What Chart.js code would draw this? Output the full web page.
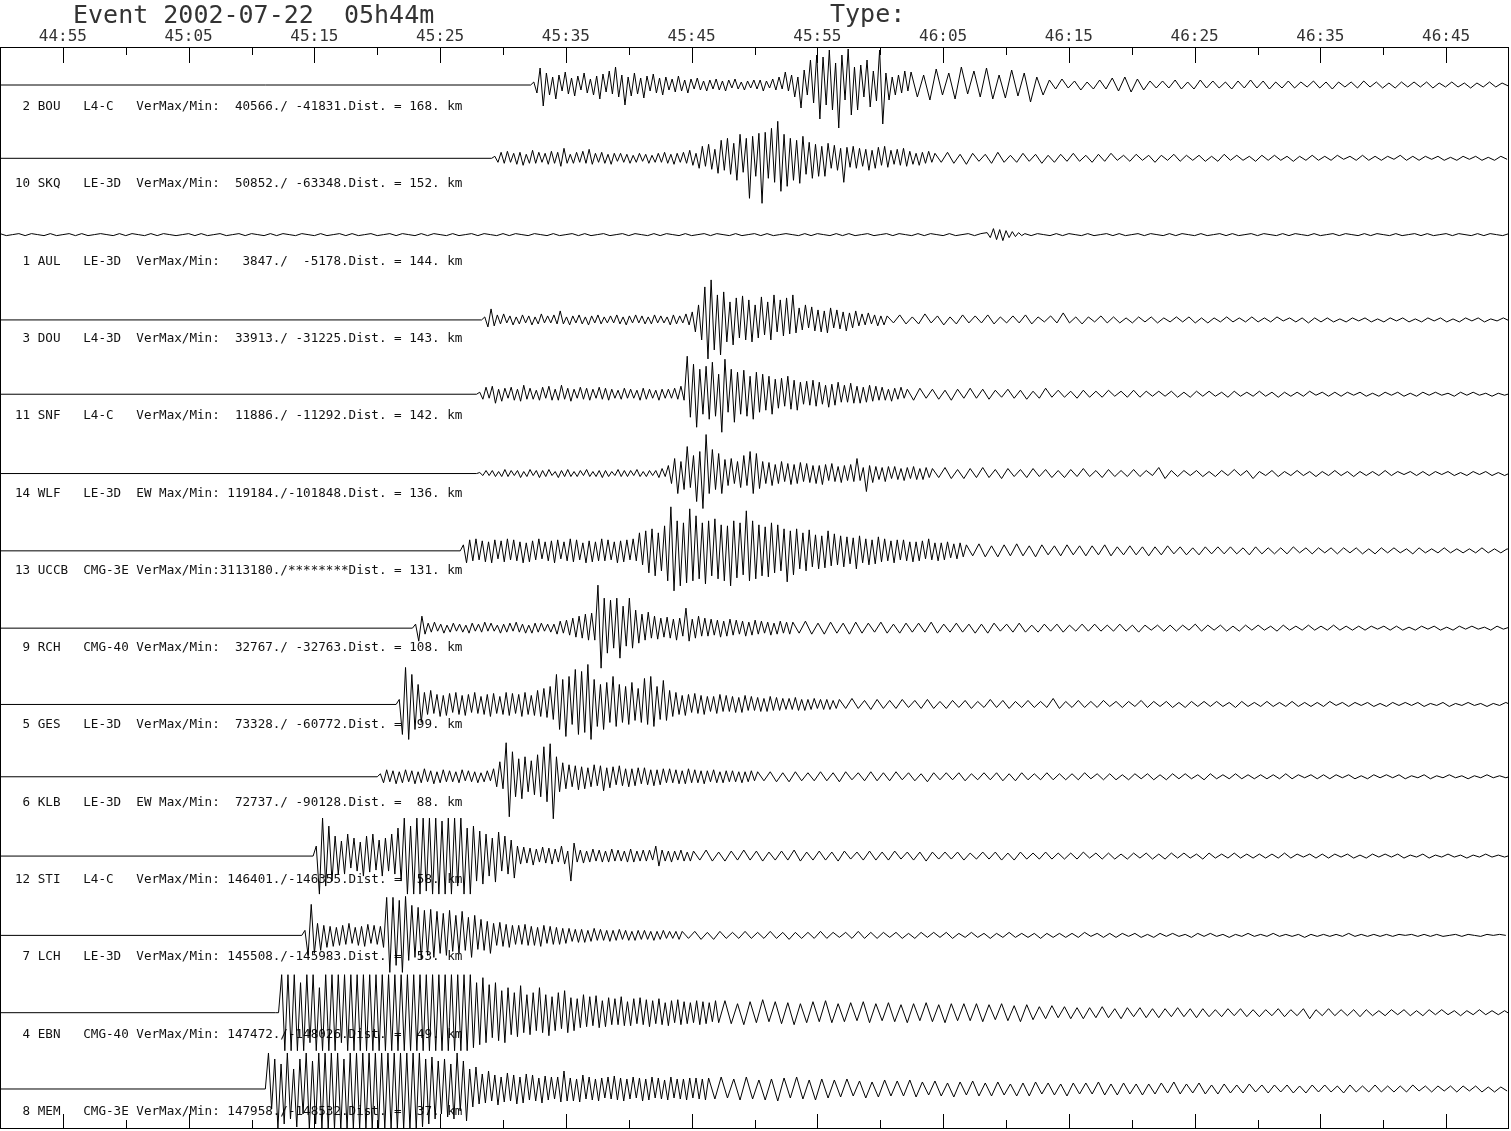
<!DOCTYPE html>
<html>
<head>
<meta charset="utf-8">
<title>Event 2002-07-22 05h44m</title>
<script src="https://cdn.jsdelivr.net/npm/chart.js@4.4.1/dist/chart.umd.min.js"></script>
<style>
  html, body { margin: 0; padding: 0; background: #fff; }
  #wrap { width: 1511px; height: 1131px; }
</style>
</head>
<body>
<div id="wrap"><canvas id="seismo" width="1511" height="1131"></canvas></div>
<script>
// header texts
const eventTitle = 'Event 2002-07-22  05h44m';
const typeLabel = 'Type:';
const startClock = '44:50'; // left edge of the plot
const tickLabels = ['44:55', '45:05', '45:15', '45:25', '45:35', '45:45',
  '45:55', '46:05', '46:15', '46:25', '46:35', '46:45'];

// station table, top to bottom
const stationNums = [2, 10, 1, 3, 11, 14, 13, 9, 5, 6, 12, 7, 4, 8];
const stations = ['BOU', 'SKQ', 'AUL', 'DOU', 'SNF', 'WLF', 'UCCB', 'RCH', 'GES', 'KLB', 'STI', 'LCH', 'EBN', 'MEM'];
const instruments = ['L4-C', 'LE-3D', 'LE-3D', 'L4-3D', 'L4-C', 'LE-3D', 'CMG-3E', 'CMG-40', 'LE-3D', 'LE-3D', 'L4-C', 'LE-3D', 'CMG-40', 'CMG-3E'];
const components = ['Ver', 'Ver', 'Ver', 'Ver', 'Ver', 'EW ', 'Ver', 'Ver', 'Ver', 'EW ', 'Ver', 'Ver', 'Ver', 'Ver'];
const maxCounts = [40566, 50852, 3847, 33913, 11886, 119184, 3113180, 32767, 73328, 72737, 146401, 145508, 147472, 147958];
const minCounts = [-41831, -63348, -5178, -31225, -11292, -101848, null, -32763, -60772, -90128, -146355, -145983, -148026, -148532];
const distKm = [168, 152, 144, 143, 142, 136, 131, 108, 99, 88, 58, 53, 49, 37];

// onset (s after 44:50) and level of the quiet part before it
const onsets = [42.2, 39.1, 0, 38.3, 37.9, 37.9, 36.6, 32.8, 31.5, 30.0, 24.9, 24.0, 21.9, 21.1];
const preLevels = [0, 4, 5, -3, 0, -2, -2, -2, -1, 4, 2, 0, 0, 1];

// traces: "Head" sampled every 0.25 s from onset, "Tail" every 0.5 s after
const bouHead = [
  3,-8,17,-21, 12,-10,8,-14, 10,-6,13,-9, 7,-11,9,-5, 12,-8,6,-10,
  9,-14,11,-7, 14,-9,18,-12, 10,-20,8,-11, 12,-9,7,-13, 9,-6,11,-8,
  7,-10,8,-5, 6,-7,9,-6, 5,-8,6,-4, 7,-5,4,-6, 5,-4,6,-5,
  4,-6,5,-3, 6,-4,3,-5, 4,-3,5,-4, 5,-6,4,-3, 6,-5,8,-4,
  13,-6,10,-12, 8,-23,15,-10, 25,-18,30,-34, 28,-20,35,-25, 22,-43,30,-15,
  36,-30,18,-25, 20,-12,25,-22, 14,-16,35,-39, 12,-15,8,-10, 10,-8,14,-6];
const bouTail = [
  13,-12,10,-15,16,-10,12,-14,18,-9, 14,-12,17,-14,10,-13,15,-11,12,-17,
  8,-10,5,-4,6,-3,4,-5,3,-4, 5,-4,7,-6,8,-7,6,-5,4,-3,
  4,-3,5,-4,3,-4,5,-3,4,-3, 3,-4,4,-3,5,-3,4,-4,3,-3,
  4,-3,3,-2,4,-3,3,-4,3,-2, 3,-3,4,-2,3,-3,2,-3,3,-2,
  3,-2,3,-3,2,-2,3,-2,2,-3, 2,-2,3,-2,2,-1];

const skqHead = [
  2,-4,6,-5, 7,-4,5,-6, 6,-7,4,-5, 8,-5,6,-4, 5,-6,7,-5,
  6,-8,10,-5, 4,-5,6,-4, 7,-5,9,-6, 5,-4,6,-5, 4,-6,5,-3,
  5,-4,4,-5, 3,-4,5,-3, 4,-5,3,-4, 5,-4,6,-5, 4,-6,5,-4,
  6,-5,8,-7, 5,-10,12,-8, 14,-11,9,-15, 18,-12,20,-16, 15,-22,24,-14,
  20,-40,22,-18, 25,-45,26,-20, 30,-24,37,-33, 24,-28,20,-22, 18,-25,22,-16,
  16,-20,14,-18, 12,-18,15,-10, 13,-12,10,-24, 11,-9,12,-10, 10,-8,9,-12,
  8,-10,11,-7, 12,-9,8,-6, 9,-7,10,-8, 7,-6,5,-7, 6,-5,7,-4];
const skqTail = [
  5,-4,6,-5,4,-6,5,-3,4,-5, 6,-4,3,-4,5,-3,4,-5,3,-4,
  4,-3,5,-3,3,-4,4,-3,5,-2, 3,-3,4,-2,3,-4,3,-2,4,-3,
  3,-2,3,-3,2,-3,4,-2,3,-2, 2,-3,3,-2,3,-2,2,-3,2,-2,
  3,-2,2,-2,3,-1,2,-2,3,-2, 2,-2,2,-1,3,-2,2,-2,2,-1,
  2,-2,1,-2,2,-1,2,-2,1,-2, 2,-1];

const aulA = [
  1,-1,0,1,-1,1,0,-1,1,-1, 0,1,-1,1,-1,0,1,0,-1,1,
  -1,1,0,-1,1,-1,1,0,-1,0, 1,-1,1,-1,0,1,-1,0,1,-1,
  1,0,-1,1,-1,1,0,-1,1,0, -1,1,-1,0,1,-1,1,-1,0,1,
  -1,0,1,-1,1,0,-1,1,-1,1, 0,-1,1,-1,0,1,-1,1,0,-1,
  1,-1,1,0,-1,1,0,-1,1,-1, 0,1,-1,1,-1,0,1,-1,0,1,
  -1,1,0,-1,1,-1,1,0,-1,1, -1,0,1,-1,1,0,-1,1,-1,0,
  1,-1,1,-1,0,1,0,-1,1,-1, 1,0,-1,1,-1,1,-1,0,1,-1,
  0,1,-1,1,0,-1,1,-1,1,0, -1,1,-1,0,1,-1,1];
const aulB = [2,-3,6,-5, 5,-6,4,-3, 3,-2,2,-1];
const aulC = [
  1,-1,1,0,-1,1,-1,1,0,-1, 1,-1,0,1,-1,1,-1,0,1,-1,
  1,0,-1,1,-1,1,0,-1,1,-1, 0,1,-1,1,-1,0,1,-1,1,0,
  -1,1,-1,1,0,-1,1,-1,0,1, -1,1,0,-1,1,-1,1,0,-1,1,
  -1,0,1,-1,1,-1,0,1,-1,1, 0,-1,1,-1,1,0,-1,1];

const douHead = [
  3,-7,11,-6, 5,-4,6,-3, 4,-5,3,-4, 5,-3,4,-5, 3,-4,6,-3,
  4,-3,5,-4, 9,-4,3,-5, 4,-3,5,-4, 3,-5,4,-3, 5,-4,3,-3,
  4,-3,5,-4, 3,-5,4,-3, 5,-3,4,-4, 3,-4,5,-3, 4,-3,3,-5,
  5,-4,4,-3, 6,-5,8,-12, 15,-20,33,-39, 40,-30,25,-35, 28,-22,18,-25,
  22,-18,24,-20, 20,-22,15,-18, 23,-15,18,-20, 25,-12,20,-16, 22,-14,25,-13,
  12,-10,15,-8, 13,-11,10,-12, 9,-13,12,-8, 10,-9,8,-11, 7,-8,9,-6,
  6,-5,7,-4, 5,-6,4,-5];
const douTail = [
  4,-3,5,-4,3,-4,6,-3,4,-5, 3,-4,5,-3,4,-3,5,-4,3,-3,
  4,-3,5,-4,3,-2,4,-3,7,-3, 3,-4,3,-2,4,-3,3,-3,2,-3,
  3,-2,3,-3,2,-2,3,-2,3,-3, 2,-3,2,-2,3,-2,2,-2,3,-2,
  2,-2,3,-1,2,-2,2,-3,2,-2, 2,-2,1,-2,2,-1,2,-2,1,-2,
  2,-1,2,-2,1,-2,2,-1,2,-2, 1,-2,2,-1,2,-2,1,-1,2,-1];

const snfHead = [
  2,-5,7,-4, 8,-9,5,-7, 6,-4,7,-6, 5,-7,9,-5, 6,-5,4,-6,
  7,-4,8,-6, 5,-6,9,-5, 6,-7,5,-4, 7,-5,6,-6, 5,-4,7,-5,
  6,-6,5,-4, 4,-5,6,-4, 5,-4,4,-6, 6,-5,5,-4, 4,-6,5,-4,
  5,-4,6,-5, 8,-6,38,-23, 30,-33,25,-20, 28,-25,32,-22, 20,-38,35,-18,
  25,-28,22,-20, 24,-22,18,-25, 22,-18,20,-16, 18,-20,15,-14, 16,-12,18,-15,
  14,-16,12,-10, 13,-11,14,-12, 12,-10,9,-13, 10,-11,12,-8, 9,-8,11,-9,
  8,-9,7,-8, 9,-7,8,-6, 7,-6,5,-7, 6,-5,7,-4];
const snfTail = [
  5,-6,6,-4,5,-5,4,-6,5,-4, 6,-4,5,-5,4,-3,5,-4,4,-5,
  3,-4,6,-3,4,-3,3,-4,4,-3, 3,-3,4,-2,3,-3,4,-3,3,-2,
  3,-2,3,-3,2,-3,3,-2,3,-2, 2,-3,3,-2,2,-2,3,-2,2,-3,
  2,-2,2,-2,3,-1,2,-2,2,-2, 2,-1,2,-2,1,-2,2,-1,2,-2,
  1,-2,2,-1,2,-1,1,-2,2,-1, 2,-1,1,-2,1,-1,1];

const wlfHead = [
  1,-2,3,-2, 3,-3,2,-3, 4,-3,3,-2, 3,-4,2,-3, 4,-2,3,-4,
  3,-3,4,-2, 2,-4,3,-3, 4,-3,2,-3, 3,-2,4,-3, 2,-3,3,-4,
  3,-3,2,-2, 4,-3,3,-3, 3,-2,4,-3, 2,-3,3,-2, 3,-4,5,-3,
  8,-10,15,-20, 12,-16,27,-14, 18,-28,22,-35, 39,-20,24,-16, 20,-20,14,-12,
  15,-10,12,-14, 18,-12,22,-20, 20,-15,12,-10, 11,-12,9,-10, 12,-8,10,-11,
  9,-10,11,-8, 10,-9,8,-10, 8,-11,9,-7, 10,-8,7,-9, 8,-7,9,-8,
  15,-7,6,-18, 8,-9,7,-6, 6,-8,7,-5, 7,-6,5,-7, 6,-5,7,-6,
  5,-6,6,-4];
const wlfTail = [
  5,-4,6,-5,4,-5,5,-4,6,-4, 4,-5,5,-3,4,-4,5,-3,4,-4,
  3,-4,4,-3,5,-3,3,-4,4,-3, 3,-3,4,-3,3,-2,6,-5,3,-3,
  3,-2,3,-3,2,-3,3,-2,4,-2, 3,-5,2,-2,3,-3,2,-2,3,-2,
  2,-3,2,-2,3,-2,2,-3,2,-2, 2,-2,3,-2,2,-1,2,-2,2,-2,
  2,-1,2,-2,1,-2,2,-1,2,-2, 1,-2,1];

const uccbHead = [
  6,-12,11,-10, 12,-9,10,-11, 9,-12,11,-8, 10,-11,12,-9, 11,-10,9,-12,
  8,-11,10,-9, 12,-8,9,-10, 10,-12,11,-8, 9,-10,12,-11, 11,-9,8,-12,
  10,-11,9,-10, 12,-10,11,-9, 9,-12,10,-11, 11,-9,12,-10, 18,-14,20,-22,
  22,-25,18,-20, 25,-30,44,-40, 30,-35,28,-32, 42,-30,35,-28, 28,-33,30,-25,
  32,-28,26,-30, 25,-35,30,-27, 28,-24,40,-30, 30,-28,26,-25, 24,-26,28,-22,
  26,-20,22,-31, 20,-24,22,-18, 18,-20,21,-16, 16,-18,15,-17, 20,-15,17,-14,
  15,-16,14,-13, 13,-18,15,-12, 12,-14,11,-13, 14,-11,12,-10, 10,-12,11,-9,
  11,-10,9,-11, 9,-10,10,-8, 12,-9,8,-10, 8,-9,9,-7, 7,-8,8,-6];
const uccbTail = [
  6,-5,7,-6,5,-6,6,-5,7,-5, 5,-6,6,-4,5,-5,6,-4,5,-5,
  5,-4,6,-5,4,-4,5,-4,4,-5, 4,-4,5,-3,4,-4,3,-4,4,-3,
  4,-3,4,-3,3,-4,4,-3,3,-3, 3,-3,4,-2,3,-3,3,-2,3,-3,
  3,-2,3,-3,2,-3,3,-2,3,-2, 2,-3,3,-2,2,-2,3,-2,2,-2,
  2,-2,3,-2,2,-2,2,-1];

const rchHead = [
  4,-13,12,-6, 5,-4,6,-3, 4,-5,3,-4, 5,-3,4,-4, 3,-5,5,-3,
  4,-4,6,-3, 5,-3,3,-5, 4,-4,5,-3, 6,-4,4,-5, 3,-5,5,-4,
  5,-3,4,-4, 4,-6,7,-5, 8,-7,10,-9, 12,-10,14,-12, 15,-12,43,-40,
  30,-25,28,-20, 30,-30,22,-18, 30,-20,18,-15, 14,-12,16,-10, 12,-11,10,-9,
  11,-10,9,-12, 10,-8,20,-13, 9,-10,12,-8, 10,-8,9,-7, 8,-9,7,-8,
  9,-7,8,-6, 7,-8,6,-7, 8,-6,7,-5, 6,-7,5,-6, 7,-5,6,-6];
const rchTail = [
  6,-5,7,-6,5,-6,6,-5,5,-6, 6,-5,5,-4,6,-5,4,-5,5,-4,
  5,-4,6,-5,4,-4,5,-4,4,-5, 4,-5,5,-3,4,-4,5,-4,3,-4,
  4,-3,4,-4,3,-3,4,-3,4,-3, 3,-3,4,-3,3,-4,3,-2,3,-3,
  3,-3,3,-2,4,-3,3,-2,3,-3, 2,-3,3,-2,3,-2,2,-3,3,-2,
  2,-2,3,-2,2,-2,3,-2,2,-2, 2,-2,2,-1,2,-2,2,-2,1,-2,
  2,-1,2,-2,1,-2,2,-1,2,-1, 1,-2,2,-1,1];

const gesHead = [
  5,-30,37,-35, 30,-25,20,-18, 12,-10,14,-9, 10,-12,9,-11, 11,-8,12,-10,
  9,-11,10,-8, 12,-9,8,-10, 10,-12,11,-9, 8,-10,12,-11, 11,-9,10,-12,
  12,-10,9,-11, 14,-12,16,-13, 18,-15,30,-25, 25,-32,28,-20, 35,-30,33,-28,
  40,-35,25,-22, 20,-25,22,-18, 28,-22,20,-18, 18,-20,22,-16, 16,-18,26,-20,
  28,-22,18,-15, 24,-16,14,-12, 12,-10,9,-11, 10,-8,11,-9, 9,-10,8,-7,
  8,-9,10,-7, 9,-7,8,-8, 7,-8,9,-6, 8,-6,7,-7, 6,-7,8,-6,
  7,-6,6,-5, 6,-5,7,-6, 5,-6,5,-5, 6,-4,5,-5, 5,-5,4,-4];
const gesTail = [
  5,-4,6,-4,4,-5,5,-4,4,-4, 5,-3,4,-4,5,-4,3,-4,4,-3,
  4,-4,3,-3,5,-3,4,-4,3,-3, 4,-3,3,-3,6,-4,3,-3,4,-3,
  3,-3,4,-2,3,-3,3,-2,4,-3, 3,-2,3,-3,2,-3,3,-2,3,-2,
  3,-2,2,-3,3,-2,2,-2,3,-2, 2,-2,3,-2,2,-2,2,-2,3,-1,
  2,-2,2,-1,2,-2,1,-2,2,-1, 2,-1,2,-2,1,-1,2,-2,1,-1,
  2,-1,1,-2,1,-1,2,-1];

const klbHead = [
  3,-6,7,-5, 6,-7,5,-6, 7,-5,6,-7, 5,-6,8,-5, 6,-7,5,-6,
  7,-5,6,-5, 5,-6,7,-4, 6,-5,5,-6, 4,-5,6,-4, 8,-10,15,-12,
  34,-40,25,-20, 18,-22,20,-15, 16,-18,22,-20, 30,-25,33,-42, 20,-15,14,-12,
  12,-10,11,-13, 10,-12,9,-10, 12,-9,11,-14, 9,-11,10,-8, 11,-9,8,-10,
  8,-9,9,-7, 9,-8,7,-9, 7,-8,8,-6, 8,-6,7,-7, 6,-7,8,-6,
  7,-6,6,-7, 6,-5,7,-6, 5,-6,6,-5, 6,-5,5,-6, 5,-5,6,-4];
const klbTail = [
  5,-4,5,-5,4,-5,5,-4,4,-4, 5,-4,4,-5,5,-3,4,-4,5,-4,
  4,-4,5,-3,4,-4,3,-5,4,-3, 4,-3,4,-4,3,-3,4,-3,4,-4,
  3,-4,4,-3,3,-3,4,-3,3,-3, 3,-3,4,-2,3,-3,3,-3,2,-3,
  3,-2,3,-3,2,-3,3,-2,3,-2, 2,-3,3,-2,2,-2,3,-2,2,-2,
  2,-2,2,-2,3,-2,2,-1,2,-2, 2,-2,2,-1,2,-2,1,-2,2,-1,
  2,-1,2,-2,1,-1,2,-2,1,-1, 2,-1,1,-2,1,-1,2,-1,1,-1,1];

const stiHead = [
  10,-38,38,-30, 30,-25,20,-18, 15,-18,22,-12, 18,-15,14,-20, 20,-16,22,-14,
  16,-20,18,-15, 22,-18,28,-25, 38,-38,30,-38, 38,-38,38,-35, 38,-38,38,-38,
  35,-38,38,-38, 38,-30,38,-38, 28,-38,30,-25, 25,-28,22,-20, 18,-26,24,-15,
  20,-18,16,-22, 10,-8,9,-7, 8,-9,7,-6, 9,-7,8,-8, 7,-6,10,-8,
  5,-25,13,-6, 6,-7,5,-6, 7,-5,6,-6, 5,-6,7,-5, 6,-5,5,-6,
  7,-6,5,-5, 6,-5,6,-4, 10,-10,6,-5, 5,-6,5,-4, 6,-5,4,-5];
const stiTail = [
  5,-4,6,-5,4,-5,5,-4,6,-4, 5,-5,4,-4,5,-4,6,-5,4,-4,
  5,-4,4,-5,5,-3,4,-4,5,-4, 4,-4,5,-3,4,-4,4,-5,4,-3,
  4,-3,4,-4,3,-3,4,-3,4,-4, 3,-4,4,-3,3,-3,4,-3,3,-3,
  3,-3,4,-2,3,-3,3,-3,2,-3, 3,-2,3,-3,2,-3,3,-2,3,-2,
  2,-3,3,-2,2,-2,3,-2,2,-2, 2,-2,2,-2,3,-2,2,-1,2,-2,
  2,-2,2,-1,2,-2,1,-2,2,-1, 2,-1,2,-2,1,-1,2,-2,1,-1,
  2,-1,1,-2,1,-1,2,-1,1,-1, 1];

const lchHead = [
  5,-20,31,-18, 12,-15,10,-12, 9,-11,8,-10, 10,-9,12,-8, 8,-10,9,-11,
  11,-8,10,-9, 9,-12,38,-37, 38,-30,35,-37, 39,-25,30,-22, 28,-24,25,-20,
  26,-22,24,-18, 22,-20,25,-16, 20,-18,24,-15, 18,-22,20,-14, 16,-15,14,-18,
  12,-10,13,-11, 11,-12,10,-9, 10,-9,11,-10, 9,-10,8,-11, 10,-8,9,-9,
  8,-9,7,-8, 7,-6,6,-7, 6,-7,5,-6, 7,-5,6,-5, 5,-6,5,-5,
  6,-4,5,-5, 4,-5,5,-4, 5,-4,4,-5, 4,-4,5,-3, 4,-3,4,-4];
const lchTail = [
  4,-3,4,-4,3,-4,4,-3,3,-3, 4,-3,3,-3,4,-3,3,-4,3,-3,
  3,-3,4,-3,3,-2,3,-3,4,-3, 3,-3,3,-2,3,-3,2,-3,3,-2,
  3,-2,3,-3,2,-2,3,-2,2,-3, 2,-2,3,-2,2,-2,2,-3,2,-2,
  2,-2,2,-2,3,-1,2,-2,2,-2, 2,-1,2,-2,1,-2,2,-1,2,-1,
  1,-2,2,-1,2,-1,1,-2,1,-1, 2,-1,1,-1,2,-1,1,-1,1,-2,
  1,-1,1,-1,1,-1,2,-1,1,-1, 1,-1,1,-1,1,0,1,-1,1,-1,
  1,-1,0,1,-1,1,0,-1,1,0, 1,0];

const ebnHead = [
  0,38,-38,38, -38,38,-38,30, -38,38,-30,38, -38,25,-38,38, -38,38,-38,38,
  -30,38,-38,38, -38,38,-38,38, -38,38,-38,38, -38,38,-38,38, -38,38,-38,38,
  -38,38,-38,38, -38,38,-38,38, -38,38,-38,38, -38,38,-38,38, -38,38,-38,38,
  -38,38,-35,30, -32,35,-30,28, -25,30,-28,22, -30,25,-22,20, -24,27,-20,18,
  -22,20,-18,25, -20,18,-23,16, -18,20,-16,22, -20,15,-18,14, -15,18,-14,16,
  -13,17,-15,12, -14,15,-12,14, -12,16,-13,11, -13,14,-11,15, -12,13,-14,12,
  -11,14,-12,10, -13,12,-10,13, -12,11,-11,10, -10,12,-12,11, -11,10,-9,12];
const ebnTail = [
  -10,12,-11,9,-12,11,-10,13,-9,11, -11,10,-12,9,-10,11,-9,12,-10,9,
  -9,10,-8,11,-10,9,-8,10,-9,8, -10,9,-8,10,-9,8,-10,9,-8,9,
  -8,9,-9,8,-7,9,-8,7,-9,8, -7,6,-6,7,-5,6,-6,5,-6,5,
  -5,6,-5,4,-6,5,-4,5,-5,4, -5,4,-4,5,-4,4,-5,4,-4,3,
  -4,4,-3,4,-4,3,-4,3,-3,4, -4,3,-3,4,-6,3,-3,4,-3,3,
  -3,3,-4,3,-3,2,-3,3,-2,3, -3,2,-3,3,-2,3,-2,2,-3,2,
  -2,3,-2,2,-2,2,-2];

const memHead = [
  36,-20,30,-40, 25,-35,36,-30, 20,-38,30,-25, 36,-40,28,-35, 36,-40,36,-40,
  36,-40,36,-40, 30,-40,36,-40, 36,-40,36,-40, 36,-40,36,-40, 36,-40,36,-40,
  36,-40,36,-40, 36,-40,36,-40, 36,-38,30,-35, 32,-30,28,-25, 30,-28,25,-30,
  36,-22,28,-32, 20,-18,22,-15, 15,-14,18,-12, 14,-16,12,-13, 16,-12,14,-15,
  12,-14,15,-11, 14,-12,11,-14, 13,-11,12,-10, 12,-13,18,-12, 11,-12,10,-13,
  14,-10,12,-11, 10,-12,11,-9, 12,-10,13,-11, 11,-12,10,-10, 12,-9,11,-12,
  10,-11,12,-9, 11,-10,9,-11, 12,-9,10,-10, 10,-11,11,-9, 11,-10,10,-11];
const memTail = [
  11,-10,12,-9,10,-11,12,-10,9,-11, 10,-12,11,-9,12,-10,9,-11,10,-9,
  9,-8,10,-7,8,-9,7,-8,9,-7, 8,-7,9,-8,7,-6,8,-7,6,-8,
  7,-6,8,-7,6,-7,7,-6,5,-7, 6,-7,7,-5,6,-6,5,-7,6,-5,
  6,-5,7,-6,5,-6,6,-5,5,-6, 5,-5,6,-4,7,-5,5,-4,6,-5,
  4,-5,5,-4,4,-4,5,-3,4,-4, 4,-3,4,-4,3,-4,4,-3,4,-3,
  3,-4,4,-3,3,-3,4,-3,3,-3, 3,-3,4,-2,3,-3,3,-2,3,-3,
  3,-2,3,-3,2,-3,2,-2];

const traceSegments = [
  [[bouHead, 0.25], [bouTail, 0.5]],
  [[skqHead, 0.25], [skqTail, 0.5]],
  [[aulA, 0.5], [aulB, 0.25], [aulC, 0.5]],
  [[douHead, 0.25], [douTail, 0.5]],
  [[snfHead, 0.25], [snfTail, 0.5]],
  [[wlfHead, 0.25], [wlfTail, 0.5]],
  [[uccbHead, 0.25], [uccbTail, 0.5]],
  [[rchHead, 0.25], [rchTail, 0.5]],
  [[gesHead, 0.25], [gesTail, 0.5]],
  [[klbHead, 0.25], [klbTail, 0.5]],
  [[stiHead, 0.25], [stiTail, 0.5]],
  [[lchHead, 0.25], [lchTail, 0.5]],
  [[ebnHead, 0.25], [ebnTail, 0.5]],
  [[memHead, 0.25], [memTail, 0.5]],
];

const SLOT = 77.3; // vertical spacing between traces, in amplitude units

function clockToSec(s) {
  const [m, sec] = s.split(':').map(Number);
  return m * 60 + sec;
}
const t0Clock = clockToSec(startClock);
const tickValues = tickLabels.map(l => clockToSec(l) - t0Clock);

function buildTrace(i) {
  const off = -i * SLOT + preLevels[i];
  const pts = [];
  let t = onsets[i];
  if (t > 0) {
    // quiet line before the first arrival
    pts.push({ x: 0, y: off }, { x: t, y: off });
    t += traceSegments[i][0][1];
  }
  traceSegments[i].forEach(([vals, dt]) => {
    vals.forEach(v => {
      pts.push({ x: t, y: off + v });
      t += dt;
    });
  });
  return pts;
}

function f8(v) {
  return v === null ? '********' : (v + '.').padStart(8);
}

function labelText(i) {
  return String(stationNums[i]).padStart(2) + ' ' + stations[i].padEnd(5) + ' ' +
    instruments[i].padEnd(6) + ' ' + components[i] + 'Max/Min:' +
    f8(maxCounts[i]) + '/' + f8(minCounts[i]) + 'Dist. = ' +
    (distKm[i] + '.').padStart(4) + ' km';
}

const seismoDecor = {
  id: 'seismoDecor',
  beforeDatasetsDraw(chart) {
    const { ctx, scales: { y } } = chart;
    ctx.save();
    ctx.fillStyle = '#111';
    ctx.font = '12.6px "DejaVu Sans Mono", monospace';
    ctx.textBaseline = 'alphabetic';
    stations.forEach((s, i) => {
      const base = y.getPixelForValue(-i * SLOT);
      ctx.fillText(labelText(i), 15, base + 25);
    });
    ctx.restore();
  },
  afterDraw(chart) {
    const { ctx, chartArea: a, scales: { x } } = chart;
    ctx.save();
    ctx.strokeStyle = '#000';
    ctx.lineWidth = 1;
    ctx.strokeRect(a.left + 0.5, a.top + 0.5, a.right - a.left - 1, a.bottom - a.top - 1);

    const minors = [];
    for (let k = 0; k < tickValues.length - 1; k++) minors.push((tickValues[k] + tickValues[k + 1]) / 2);
    ctx.beginPath();
    tickValues.forEach(v => {
      const px = Math.round(x.getPixelForValue(v)) + 0.5;
      ctx.moveTo(px, a.top); ctx.lineTo(px, a.top + 16);
      ctx.moveTo(px, a.bottom); ctx.lineTo(px, a.bottom - 15);
    });
    minors.forEach(v => {
      const px = Math.round(x.getPixelForValue(v)) + 0.5;
      ctx.moveTo(px, a.top); ctx.lineTo(px, a.top + 8);
      ctx.moveTo(px, a.bottom); ctx.lineTo(px, a.bottom - 9);
    });
    ctx.stroke();

    ctx.fillStyle = '#333';
    ctx.font = '25px "DejaVu Sans Mono", monospace';
    ctx.textBaseline = 'alphabetic';
    ctx.fillText(eventTitle, 73, 23);
    ctx.fillText(typeLabel, 830, 22);
    ctx.restore();
  }
};

const ctx = document.getElementById('seismo').getContext('2d');
new Chart(ctx, {
  type: 'line',
  data: {
    datasets: stations.map((s, i) => ({
      label: s,
      data: buildTrace(i),
      borderColor: '#000',
      borderWidth: 1,
      pointRadius: 0,
      tension: 0,
      fill: false,
    })),
  },
  options: {
    responsive: false,
    animation: false,
    devicePixelRatio: 1,
    layout: { padding: { top: 25, left: 0, right: 2, bottom: 2 } },
    plugins: { legend: { display: false }, tooltip: { enabled: false } },
    scales: {
      x: {
        type: 'linear',
        position: 'top',
        min: 0,
        max: 120,
        afterBuildTicks: s => { s.ticks = tickValues.map(v => ({ value: v })); },
        afterFit: s => { s.height = 22; },
        grid: { display: false, drawTicks: false },
        border: { display: false },
        ticks: {
          autoSkip: false,
          maxRotation: 0,
          padding: 1,
          color: '#333',
          font: { family: '"DejaVu Sans Mono", monospace', size: 16 },
          callback: v => tickLabels[tickValues.indexOf(v)] || '',
        },
      },
      y: {
        display: false,
        min: -13 * SLOT - 39,
        max: 38,
      },
    },
  },
  plugins: [seismoDecor],
});
</script>
</body>
</html>
